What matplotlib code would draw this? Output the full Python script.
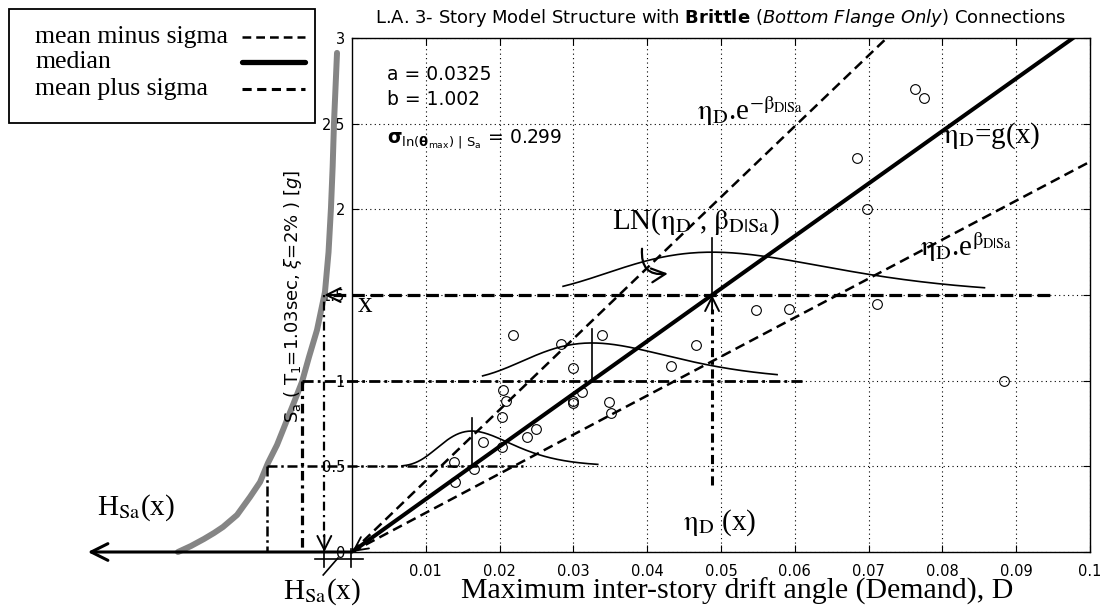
import numpy as np
import matplotlib.pyplot as plt
from matplotlib.patches import Rectangle
from matplotlib.lines import Line2D

plt.rcParams['font.family'] = ['DejaVu Sans']
plt.rcParams['mathtext.fontset'] = 'dejavusans'

# median demand model eta_D = a * Sa^b and its dispersion
a = 0.0325
b = 1.002
beta = 0.299

# analysis results: peak drift D against spectral acceleration Sa [g]
drift = [0.0218, 0.0283, 0.0339, 0.0466, 0.0299, 0.0432, 0.0547, 0.0592, 0.0711,
         0.0205, 0.0209, 0.0312, 0.0299, 0.0299, 0.0348, 0.0351, 0.0203, 0.0249,
         0.0237, 0.0178, 0.0203, 0.0138, 0.0165, 0.0140, 0.0763, 0.0775, 0.0684,
         0.0698, 0.0883]
sa = [1.267, 1.214, 1.267, 1.208, 1.074, 1.086, 1.41, 1.42, 1.45,
      0.946, 0.881, 0.934, 0.881, 0.870, 0.876, 0.811, 0.788, 0.718,
      0.671, 0.642, 0.613, 0.525, 0.485, 0.409, 2.70, 2.65, 2.30,
      2.00, 1.00]

# Sa hazard curve, sketched to the left of the D axis (offset in D units)
haz_sa = [0.0, 0.035, 0.076, 0.111, 0.146, 0.216, 0.321, 0.408, 0.52, 0.625,
          0.712, 0.858, 0.992, 1.138, 1.296, 1.518, 1.75, 2.008, 2.25, 2.504,
          2.913]
haz_x = [-0.02358, -0.02182, -0.02006, -0.01870, -0.01748, -0.01558, -0.01382,
         -0.01246, -0.01138, -0.01016, -0.00935, -0.00800, -0.00678, -0.00583,
         -0.00474, -0.00366, -0.00318, -0.00285, -0.00262, -0.00244, -0.00203]

# Sa levels with the lognormal demand distribution drawn on top
lvl_sa = [0.5, 1.0, 1.5]
lvl_end = [0.0232, 0.061, 0.0949]
pdf_peak = [0.206, 0.22, 0.25]
pdf_lo = [0.0068, 0.0177, 0.0286]
pdf_hi = [0.0333, 0.0576, 0.0857]
pdf_stem = [0.28, 0.30, 0.33]

xticks = [0.01, 0.02, 0.03, 0.04, 0.05, 0.06, 0.07, 0.08, 0.09, 0.1]
xlabels = ['0.01', '0.02', '0.03', '0.04', '0.05', '0.06', '0.07', '0.08', '0.09', '0.1']
yticks = [0, 0.5, 1, 1.5, 2, 2.5, 3]
ylabels = ['0', '0.5', '1', '1.5', '2', '2.5', '3']

W, H = 1116, 608
fig = plt.figure(figsize=(W / 100, H / 100), dpi=100)
ax = fig.add_axes([352 / W, 1 - 552 / H, 738 / W, 514 / H])
ax.set_xlim(0, 0.1)
ax.set_ylim(0, 3)
ax.set_xticks(xticks)
ax.set_xticklabels(xlabels)
ax.set_yticks(yticks)
ax.set_yticklabels(ylabels)
ax.tick_params(direction='in', top=True, right=True, length=5, width=0.8,
               labelsize=10.5, colors='black')
ax.tick_params(axis='x', pad=9)
ax.tick_params(axis='y', pad=5)
ax.grid(True, color='black', linestyle=(0, (1, 3)), linewidth=0.8)
for sp in ax.spines.values():
    sp.set_linewidth(1.0)

serif = dict(family='Liberation Serif', math_fontfamily='stix', fontsize=21)
head = 'head_length=0.5,head_width=0.25'
ETA = r'$\mathrm{\eta}_{\rm D}$'
BETA = r'\mathrm{\beta}_{\rm D|Sa}'

# median and +/- one sigma lines
s = np.linspace(0, 3, 100)
eta = a * s ** b
ax.plot(eta, s, color='black', lw=2.9, zorder=3)
ax.plot(eta * np.exp(-beta), s, color='black', lw=1.8, dashes=(4, 2.2), zorder=3)
ax.plot(eta * np.exp(beta), s, color='black', lw=1.8, dashes=(4, 2.2), zorder=3)
ax.annotate('', xy=(0, 0), xytext=(0.004, 0.004 / a),
            arrowprops=dict(arrowstyle='->,' + head, lw=1.3, color='black',
                            shrinkA=0, shrinkB=0, mutation_scale=20),
            annotation_clip=False)

ax.plot(drift, sa, 'o', mfc='none', mec='black', ms=7, mew=0.8, zorder=4)

# hazard curve and its horizontal axis
ax.plot(haz_x, haz_sa, color='#858585', lw=4.3, solid_capstyle='round',
        solid_joinstyle='round', clip_on=False, zorder=3)
ax.annotate('', xy=(-0.0358, 0), xytext=(0, 0),
            arrowprops=dict(arrowstyle='->,head_length=0.6,head_width=0.3', lw=2.2,
                            color='black', shrinkA=0, shrinkB=0, mutation_scale=20),
            annotation_clip=False)

haz_at = np.interp(lvl_sa, haz_sa, haz_x)

# Sa levels traced to the hazard curve and down to the H axis
ax.plot([haz_at[0], lvl_end[0]], [lvl_sa[0]] * 2, color='black', lw=1.8,
        dashes=(4, 1.5, 1, 1.5), clip_on=False, zorder=3)
ax.plot([haz_at[1], lvl_end[1]], [lvl_sa[1]] * 2, color='black', lw=2.0,
        dashes=(4, 1.5, 1, 1.5), clip_on=False, zorder=3)
ax.plot([haz_at[2] + 0.0012, lvl_end[2]], [lvl_sa[2]] * 2, color='black', lw=2.3,
        dashes=(4, 1.8), clip_on=False, zorder=3)
ax.annotate('', xy=(haz_at[2], lvl_sa[2]), xytext=(haz_at[2] + 0.002, lvl_sa[2]),
            arrowprops=dict(arrowstyle='->,' + head, lw=1.5, color='black',
                            shrinkA=0, shrinkB=0, mutation_scale=20),
            annotation_clip=False)

ax.plot([haz_at[0]] * 2, [lvl_sa[0], 0], color='black', lw=1.8,
        dashes=(4, 1.5, 1, 1.5), clip_on=False, zorder=3)
ax.plot([haz_at[1]] * 2, [lvl_sa[1], 0], color='black', lw=2.3,
        dashes=(3, 1.5, 1, 1.5), clip_on=False, zorder=3)
ax.plot([haz_at[2]] * 2, [lvl_sa[2], 0.08], color='black', lw=1.6,
        dashes=(1, 2, 4, 2), clip_on=False, zorder=3)
ax.annotate('', xy=(haz_at[2], 0.0), xytext=(haz_at[2], 0.1),
            arrowprops=dict(arrowstyle='->,' + head, lw=1.4, color='black',
                            shrinkA=0, shrinkB=0, mutation_scale=20),
            annotation_clip=False)

# median at the top level traced down to the D axis
eta_top = a * lvl_sa[2] ** b
ax.plot([eta_top] * 2, [0.39, lvl_sa[2] - 0.08], color='black', lw=2.2,
        dashes=(3, 1.5, 1, 1.5), zorder=3)
ax.annotate('', xy=(eta_top, lvl_sa[2]), xytext=(eta_top, lvl_sa[2] - 0.1),
            arrowprops=dict(arrowstyle='->,' + head, lw=1.4, color='black',
                            shrinkA=0, shrinkB=0, mutation_scale=20))

# lognormal distributions of D at each level
for lv, pk, lo, hi, st in zip(lvl_sa, pdf_peak, pdf_lo, pdf_hi, pdf_stem):
    m = a * lv ** b
    d = np.linspace(lo, hi, 200)
    ax.plot(d, lv + pk * np.exp(-0.5 * (np.log(d / m) / beta) ** 2),
            color='black', lw=1.2, zorder=3)
    ax.plot([m, m], [lv, lv + st], color='black', lw=1.2, zorder=3)

# break marks at the origin of the hazard axis
for xm in [haz_at[2], -0.0001]:
    ax.plot([xm, xm], [0.02, -0.088], color='black', lw=1.2, clip_on=False)
ax.plot([-0.005, 0.0015], [-0.041, -0.041], color='black', lw=1.2, clip_on=False)
ax.plot([-0.0039, -0.0019], [-0.134, -0.035], color='black', lw=1.2, clip_on=False)

# model parameters
ax.text(0.0047, 2.755, 'a = 0.0325', fontsize=13.5)
ax.text(0.0047, 2.61, 'b = 1.002', fontsize=13.5)
ax.text(0.0047, 2.39, r'$\mathbf{\sigma}_{\mathrm{ln}(\mathbf{\theta}_{\mathrm{max}})\ |\ '
        r'\mathrm{S}_{\mathrm{a}}}$ = 0.299', fontsize=13.5)

# curve annotations
ax.text(0.0467, 2.52, ETA + '.e$^{-' + BETA + '}$', **serif)
ax.text(0.0801, 2.39, ETA + '=g(x)', **serif)
ax.text(0.0770, 1.73, ETA + '.e$^{' + BETA + '}$', **serif)
ax.text(0.0352, 1.89, 'LN(' + ETA + ' , $' + BETA + '$)', **serif)
ax.text(0.0449, 0.128, ETA + ' (x)', **serif)
ax.text(-0.0346, 0.216, r'H$_{\rm Sa}$(x)', clip_on=False, **serif)
ax.text(-0.0093, -0.27, r'H$_{\rm Sa}$(x)', clip_on=False, **serif)
ax.text(0.0008, 1.40, 'x', **serif)
ax.annotate('', xy=(0.0428, 1.625), xytext=(0.0393, 1.77),
            arrowprops=dict(arrowstyle='->,' + head, lw=1.6, color='black',
                            connectionstyle='arc3,rad=0.6', shrinkA=0, shrinkB=0,
                            mutation_scale=20))

# axis labels and title
fig.text(737 / W, 1 - 599 / H, 'Maximum inter-story drift angle (Demand), D',
         ha='center', va='baseline', family='Liberation Serif', fontsize=21.5)
fig.text(293 / W, 1 - 296 / H, r'S$_{\rm a}$ ( T$_{\rm 1}$=1.03sec, $\xi$=2% ) [$g$]',
         rotation=90, ha='center', va='center', fontsize=13)
fig.text(721 / W, 1 - 23 / H,
         r'L.A. 3- Story Model Structure with $\mathbf{Brittle}$ '
         r'$\mathit{(Bottom\ Flange\ Only)}$ Connections',
         ha='center', va='baseline', fontsize=13)

# legend box
fig.add_artist(Rectangle((9 / W, 1 - 123 / H), 306 / W, 114 / H,
                         transform=fig.transFigure, fill=False, ec='black', lw=1.3))
leg_rows = [37, 62, 89]
leg_text = ['mean minus sigma', 'median', 'mean plus sigma']
leg_style = [dict(lw=1.8, dashes=(3.5, 2)), dict(lw=3.8, solid_capstyle='round'),
             dict(lw=2.2, dashes=(3, 1.8))]
for yr, txt, st in zip(leg_rows, leg_text, leg_style):
    fig.text(35 / W, 1 - yr / H, txt, va='center', family='Liberation Serif',
             fontsize=18.5)
    fig.add_artist(Line2D([242 / W, 305 / W], [1 - yr / H] * 2, color='black',
                          transform=fig.transFigure, **st))

fig.savefig('out.png', dpi=100)
